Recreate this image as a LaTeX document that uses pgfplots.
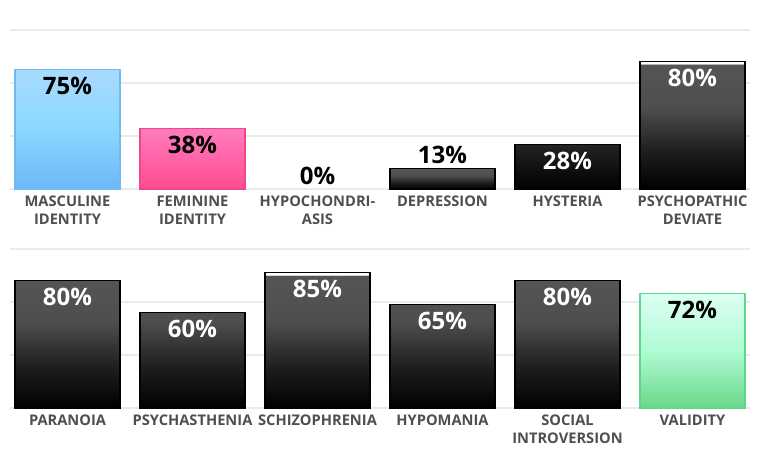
\documentclass[border=0pt]{standalone}
\usepackage{fontspec}
\setmainfont{Open Sans}
\usepackage{pgfplots}
\pgfplotsset{compat=1.18}

\definecolor{gridc}{HTML}{EAEAEA}
\definecolor{labc}{HTML}{4F4F4F}
\definecolor{dA}{HTML}{000000}
\definecolor{dB}{HTML}{1E1E1E}
\definecolor{dC}{HTML}{4E4E4E}
\definecolor{dD}{HTML}{555555}
\definecolor{mA}{HTML}{6BB8F8}
\definecolor{mB}{HTML}{8AD8FF}
\definecolor{mC}{HTML}{A8DBFE}
\definecolor{mline}{HTML}{6CBCF2}
\definecolor{fA}{HTML}{FF4B93}
\definecolor{fB}{HTML}{FF7CBC}
\definecolor{fline}{HTML}{F0468C}
\definecolor{vA}{HTML}{6AD78A}
\definecolor{vB}{HTML}{B0FBD4}
\definecolor{vC}{HTML}{DCFFF4}
\definecolor{vline}{HTML}{5ED888}

\pgfdeclareverticalshading{darkbar}{100bp}{color(0bp)=(dA); color(25bp)=(dA); color(40bp)=(dB); color(57bp)=(dC); color(73.9bp)=(dD); color(74.3bp)=(white); color(100bp)=(white)}
\pgfdeclareverticalshading{mascbar}{100bp}{color(0bp)=(mA); color(25bp)=(mA); color(50bp)=(mB); color(75bp)=(mC); color(100bp)=(mC)}
\pgfdeclareverticalshading{fembar}{100bp}{color(0bp)=(fA); color(25bp)=(fA); color(75bp)=(fB); color(100bp)=(fB)}
\pgfdeclareverticalshading{valbar}{100bp}{color(0bp)=(vA); color(25bp)=(vA); color(50bp)=(vB); color(75bp)=(vC); color(100bp)=(vC)}

\pgfplotsset{
  rowstyle/.style={
    scale only axis, width=555pt, height=119.25pt,
    xmin=-0.46, xmax=5.46, ymin=0, ymax=100, enlargelimits=false,
    ybar, bar width=0.84, bar shift=0pt,
    ytick={0,33.333,66.667,100}, yticklabels={},
    ymajorgrids, grid style={gridc, line width=1.1pt},
    axis line style={draw=none}, major tick length=0pt,
    xtick={0,1,2,3,4,5},
    xticklabel style={font=\fontsize{11}{13.5}\selectfont\bfseries, text=labc, align=center, yshift=-1.5pt},
    clip=false, point meta=y,
    /pgf/number format/assume math mode=true,
    nodes near coords={\pgfmathprintnumber{\pgfplotspointmeta}\%},
    every node near coord/.append style={font=\fontsize{18}{20}\selectfont\bfseries},
  },
  inside/.style={nodes near coords style={anchor=north, yshift=-2pt}},
  dark/.style={draw=black, line width=0.8pt, shade, shading=darkbar},
}

\begin{document}
\begin{tikzpicture}
\path[use as bounding box] (0,0) rectangle (570pt,352.5pt);

\begin{axis}[rowstyle, at={(7.5pt,210.75pt)}, anchor=south west,
  xticklabels={{MASCULINE\\IDENTITY},{FEMININE\\IDENTITY},{HYPOCHONDRI-\\ASIS},{DEPRESSION},{HYSTERIA},{PSYCHOPATHIC\\DEVIATE}}]
\addplot[draw=mline, line width=0.8pt, shade, shading=mascbar, inside, nodes near coords style={text=black}] coordinates {(0,75)};
\addplot[draw=fline, line width=0.8pt, shade, shading=fembar, inside, nodes near coords style={text=black}] coordinates {(1,38)};
\addplot[draw=none, fill=none, nodes near coords style={text=black}] coordinates {(2,0)};
\addplot[dark, nodes near coords style={text=black}] coordinates {(3,13)};
\addplot[dark, inside, nodes near coords style={text=white}] coordinates {(4,28) (5,80)};
\end{axis}

\begin{axis}[rowstyle, at={(7.5pt,46.5pt)}, anchor=south west,
  xticklabels={{PARANOIA},{PSYCHASTHENIA},{SCHIZOPHRENIA},{HYPOMANIA},{SOCIAL\\INTROVERSION},{VALIDITY}}]
\addplot[dark, inside, nodes near coords style={text=white}] coordinates {(0,80) (1,60) (2,85) (3,65) (4,80)};
\addplot[draw=vline, line width=0.8pt, shade, shading=valbar, inside, nodes near coords style={text=black}] coordinates {(5,72)};
\end{axis}
\end{tikzpicture}
\end{document}
